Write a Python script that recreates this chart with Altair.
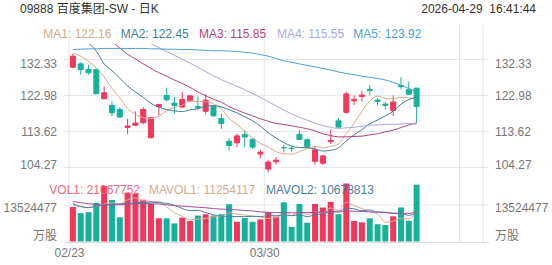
import altair as alt
import pandas as pd

FONT = "Liberation Sans, Noto Sans CJK SC, sans-serif"

# ---------------- data ----------------
title_text = "09888 百度集团-SW - 日K"
time_text = "2026-04-29\u00a0\u00a016:41:44"

dates = ["02/23", "02/24", "02/25", "02/26", "02/27",
         "03/02", "03/03", "03/04", "03/05", "03/06",
         "03/09", "03/10", "03/11", "03/12", "03/13",
         "03/16", "03/17", "03/18", "03/19", "03/20",
         "03/23", "03/24", "03/25", "03/26", "03/27",
         "03/30", "03/31", "04/01", "04/02", "04/08",
         "04/09", "04/10", "04/13", "04/14", "04/15",
         "04/16", "04/17", "04/20", "04/21", "04/22",
         "04/23", "04/24", "04/27", "04/28", "04/29"]

opens = [130.34, 131.21, 129.74, 129.74, 122.14, 120.41, 119.37, 114.71, 115.23, 115.92,
         112.04, 120.07, 122.98, 121.02, 119.98, 121.60, 120.10, 118.90, 120.20, 117.00,
         111.10, 110.70, 112.80, 111.60, 107.80, 103.90, 105.80, 109.50, 109.30, 112.90,
         111.50, 105.90, 105.40, 111.00, 116.40, 118.60, 121.60, 122.70, 124.60, 121.80,
         120.76, 119.10, 125.60, 124.50, 124.90]
closes = [133.19, 129.74, 128.88, 123.43, 123.69, 118.51, 117.39, 115.06, 115.84, 119.37,
          117.22, 120.67, 121.88, 120.41, 121.97, 122.90, 119.80, 121.80, 117.70, 115.70,
          110.00, 112.50, 112.20, 109.60, 108.30, 105.70, 106.20, 109.40, 109.20, 111.60,
          109.70, 108.90, 107.30, 111.30, 114.80, 123.40, 122.00, 123.10, 124.30, 121.40,
          120.41, 121.30, 125.30, 123.30, 120.15]
highs = [133.80, 131.60, 130.95, 130.10, 125.30, 121.45, 119.98, 116.96, 118.90, 119.98,
         117.40, 120.80, 125.00, 122.70, 123.90, 123.00, 122.70, 123.40, 120.40, 118.30,
         111.90, 113.10, 114.00, 111.90, 108.90, 106.30, 107.00, 110.20, 109.90, 114.00,
         111.90, 109.70, 107.60, 114.10, 117.10, 124.00, 123.00, 124.30, 125.70, 122.30,
         121.40, 123.00, 127.75, 126.60, 124.90]
lows = [130.17, 128.40, 128.40, 123.40, 122.10, 117.56, 117.13, 112.90, 115.06, 115.50,
        111.80, 117.80, 121.45, 118.25, 119.90, 121.30, 119.40, 118.10, 117.50, 114.30,
        108.70, 109.60, 109.70, 109.10, 106.70, 103.00, 105.00, 108.20, 108.40, 111.40,
        109.20, 105.00, 105.00, 110.40, 114.50, 118.40, 120.50, 121.40, 123.10, 120.50,
        119.40, 117.65, 124.70, 123.30, 115.90]

# volume in millions of shares
volume_m = [12.77, 10.49, 10.87, 14.28, 20.60, 15.40, 8.97, 18.10, 17.70, 15.50,
            13.90, 8.60, 8.60, 6.70, 8.85, 7.60, 9.60, 10.10, 9.60, 10.10,
            13.80, 7.30, 8.70, 7.30, 8.20, 10.90, 9.20, 14.50, 5.40, 13.90,
            6.95, 13.90, 12.60, 14.70, 10.10, 21.50, 7.60, 7.10, 8.60, 6.40,
            6.10, 9.35, 12.60, 7.70, 21.067752]

ma_names = ["MA1", "MA2", "MA3", "MA4", "MA5"]
ma_last = ["122.16", "122.45", "115.85", "115.55", "123.92"]
ma1 = [134.0, 133.2, 131.9, 130.1, 127.79, 124.85, 122.38, 119.62, 118.1, 117.23,
       116.98, 117.63, 119.0, 119.91, 120.43, 121.57, 121.39, 121.38, 120.83, 119.58,
       117.0, 115.54, 113.62, 112.0, 110.52, 109.66, 108.4, 107.84, 107.76, 108.42,
       109.22, 109.76, 109.34, 109.76, 110.4, 113.14, 115.76, 118.92, 121.52, 122.84,
       122.24, 122.1, 122.54, 122.34, 122.16]
ma2 = [139.5, 138.2, 136.6, 134.5, 131.2, 129.4, 127.5, 125.5, 123.9, 122.51,
       120.92, 120.0, 119.31, 119.0, 118.83, 119.28, 119.51, 120.19, 120.37, 120.0,
       119.29, 118.47, 117.5, 116.42, 115.05, 113.33, 111.97, 110.73, 109.88, 109.47,
       109.44, 109.08, 108.59, 108.76, 109.41, 111.18, 112.76, 114.13, 115.64, 116.62,
       117.69, 118.93, 120.73, 121.93, 122.45]
ma3 = [141.5, 140.5, 139.5, 138.6, 137.7, 136.9, 135.3, 133.7, 132.5, 131.2,
       130.0, 128.9, 128.0, 127.0, 126.1, 125.1, 123.9, 122.9, 122.0, 121.26,
       120.1, 119.24, 118.4, 117.71, 116.94, 116.3, 115.74, 115.46, 115.12, 114.74,
       114.36, 113.78, 113.05, 112.59, 112.23, 112.26, 112.36, 112.43, 112.76, 113.05,
       113.57, 114.0, 114.66, 115.35, 115.85]
ma4 = [146.4, 145.4, 144.4, 143.4, 142.4, 141.4, 140.4, 139.4, 138.4, 137.4,
       136.4, 135.4, 134.4, 133.4, 132.4, 131.4, 130.3, 129.2, 128.1, 127.1,
       126.2, 125.4, 124.5, 123.5, 122.5, 121.4, 120.3, 119.2, 118.2, 117.33,
       116.55, 115.85, 115.14, 114.73, 114.43, 114.6, 114.74, 115.02, 115.3, 115.37,
       115.48, 115.49, 115.61, 115.71, 115.55]
ma5 = [134.9, 135.0, 135.1, 135.1, 135.2, 135.2, 135.2, 135.2, 135.2, 135.2,
       135.1, 135.1, 135.0, 135.0, 134.9, 134.9, 134.8, 134.7, 134.6, 134.6,
       134.5, 134.4, 134.2, 134.0, 133.6, 133.2, 132.6, 132.0, 131.6, 131.2,
       130.8, 130.4, 130.0, 129.6, 129.1, 128.7, 128.4, 128.0, 127.7, 127.4,
       127.0, 126.4, 125.6, 124.8, 123.92]

vol_names = ["VOL1", "MAVOL1", "MAVOL2"]
vol_last = ["21067752", "11254117", "10678813"]
mavol1 = [14.1, 13.1, 12.5, 13.0, 13.8, 14.33, 14.02, 15.47, 16.15, 15.13,
          14.83, 14.76, 12.86, 10.66, 9.33, 8.07, 8.27, 8.57, 9.15, 9.4,
          10.64, 10.18, 9.9, 9.44, 9.06, 8.48, 8.86, 10.02, 9.64, 10.78,
          9.99, 10.93, 10.55, 12.41, 11.65, 14.56, 13.3, 12.2, 10.98, 10.24,
          7.16, 7.51, 8.61, 8.43, 11.254117]
mavol2 = [13.8, 12.9, 12.6, 13.1, 13.5, 13.8, 13.9, 14.1, 14.4, 14.47,
          14.58, 14.39, 14.17, 13.41, 12.23, 11.45, 11.52, 10.72, 9.91, 9.37,
          9.36, 9.23, 9.24, 9.3, 9.23, 9.56, 9.52, 9.96, 9.54, 9.92,
          9.24, 9.9, 10.29, 11.03, 11.22, 12.28, 12.12, 11.38, 11.7, 10.95,
          10.86, 10.41, 10.41, 9.71, 10.678813]
mavol3 = [14.8, 14.4, 14.0, 13.7, 13.5, 13.5, 13.6, 13.8, 14.0, 14.1,
          14.0, 13.9, 13.6, 13.3, 13.1, 12.9, 12.7, 12.5, 12.2, 12.0,
          11.9, 11.7, 11.5, 11.3, 11.0, 10.8, 10.7, 10.7, 10.6, 10.7,
          10.7, 10.8, 10.9, 11.0, 10.9, 11.3, 11.2, 11.1, 11.0, 10.9,
          10.7, 10.5, 10.5, 10.4, 11.0]

price_ticks = [132.33, 122.98, 113.62, 104.27]
vol_tick = 13524477
vol_unit = "万股"
date_ticks = [0, 25]          # candle indices whose dates label the x axis

# ---------------- styling ----------------
RED, GREEN = "#f2375d", "#14b29b"
ma_colors = ["#d5ab8d", "#3f7e93", "#b2447f", "#aaa8e2", "#4f9fd2"]
vol_colors = ["#f06a7e", "#d5ab8d", "#4d7ea0"]
mavol3_color = "#a0509a"
GRID = "#e6e6e6"
LABEL = "#777777"

W, H = 424, 198
SLOTS = 53
PRICE_RANGE = [123.6, 15.5]     # pixel rows of the lowest / highest price tick
VOL_RANGE = [197.5, 161.0]      # pixel rows of volume 0 / volume tick

n = len(dates)
df = pd.DataFrame({"k": list(range(n)), "date": dates, "open": opens, "close": closes,
                   "high": highs, "low": lows, "vol": volume_m})
df["dir"] = ["up" if c >= o else "down" for o, c in zip(opens, closes)]
df["zero"] = 0.0

ma_df = pd.DataFrame([{"k": i, "series": nm, "value": v}
                      for nm, arr in zip(ma_names, [ma1, ma2, ma3, ma4, ma5])
                      for i, v in enumerate(arr)])
mavol_df = pd.DataFrame([{"k": i, "series": nm, "value": v}
                         for nm, arr in zip(["MAVOL1", "MAVOL2", "MAVOL3"], [mavol1, mavol2, mavol3])
                         for i, v in enumerate(arr)])

cdomain = ["up", "down"] + ma_names + vol_names + ["MAVOL3"]
crange = [RED, GREEN] + ma_colors + vol_colors + [mavol3_color]
cscale = alt.Scale(domain=cdomain, range=crange)

label_expr = " : ".join(
    [f"datum.value < {date_ticks[i] - 0.5 + 0.1} ? '{dates[date_ticks[i]]}'" for i in range(len(date_ticks) - 1)]
    + [f"'{dates[date_ticks[-1]]}'"])
xaxis = alt.Axis(values=[t - 0.5 for t in date_ticks], labelExpr=label_expr, grid=False, ticks=False,
                 domain=True, domainColor="#dddddd", labelColor=LABEL, labelFontSize=12, labelFont=FONT,
                 labelFlush=True, labelPadding=5, title=None)
xscale = alt.Scale(domain=[-0.5, SLOTS - 0.5], nice=False, zero=False)


def X(field):
    return alt.X(field, scale=xscale, axis=xaxis, title=None)


pscale = alt.Scale(domain=[price_ticks[-1], price_ticks[0]], range=PRICE_RANGE, nice=False, zero=False)
vscale = alt.Scale(domain=[0, vol_tick / 1e6], range=VOL_RANGE, nice=False, zero=False)

# vertical split lines at slot boundaries
vgrid_df = pd.DataFrame({"gx": [-0.5, 24.5, 49.5, SLOTS - 0.5]})
vgrid = alt.Chart(vgrid_df).mark_rule(color=GRID, strokeWidth=1).encode(
    x=X("gx:Q"), y=alt.value(-19), y2=alt.value(H))

pt_df = pd.DataFrame({"p": price_ticks, "label": [f"{v:.2f}" for v in price_ticks],
                      "pos": ["top"] + ["mid"] * (len(price_ticks) - 2) + ["bot"]})
pgrid = alt.Chart(pt_df).mark_rule(color=GRID, strokeWidth=1).encode(
    y=alt.Y("p:Q", scale=pscale, axis=None), x=alt.value(0), x2=alt.value(W))


def plabels(xpix, align):
    layers = []
    for pos, dy in [("top", 4.5), ("mid", 0), ("bot", -2.3)]:
        layers.append(alt.Chart(pt_df).transform_filter(alt.datum.pos == pos).mark_text(
            align=align, baseline="middle", dy=dy, font=FONT, fontSize=12, color=LABEL).encode(
            y=alt.Y("p:Q", scale=pscale, axis=None), x=alt.value(xpix), text="label:N"))
    return layers


wick = alt.Chart(df).mark_rule(strokeWidth=1).encode(
    x=X("k:Q"), y=alt.Y("low:Q", scale=pscale, axis=None), y2="high:Q",
    color=alt.Color("dir:N", scale=cscale, legend=None))
body = alt.Chart(df).mark_bar(size=5, strokeWidth=1).encode(
    x=X("k:Q"), y=alt.Y("open:Q", scale=pscale, axis=None), y2="close:Q",
    color=alt.Color("dir:N", scale=cscale, legend=None),
    stroke=alt.Stroke("dir:N", scale=cscale, legend=None))
ma_lines = alt.Chart(ma_df).mark_line(strokeWidth=1, clip=True, interpolate="monotone").encode(
    x=X("k:Q"), y=alt.Y("value:Q", scale=pscale, axis=None),
    color=alt.Color("series:N", scale=cscale, legend=None), detail="series:N")

# legend rows / header
ma_leg_df = pd.DataFrame({"series": ma_names,
                          "label": [f"{nm}: {v}" for nm, v in zip(ma_names, ma_last)],
                          "px": [-20.7, 56.7, 135.0, 213.0, 289.3]})
ma_leg = alt.Chart(ma_leg_df).mark_text(align="left", baseline="middle", font=FONT, fontSize=12).encode(
    x=alt.X("px:Q", scale=None), y=alt.value(-10), text="label:N",
    color=alt.Color("series:N", scale=cscale, legend=None))

vol_leg_df = pd.DataFrame({"series": vol_names,
                           "label": [f"{nm}: {v}" for nm, v in zip(vol_names, vol_last)],
                           "px": [-14.7, 85.0, 202.0]})
vol_leg = alt.Chart(vol_leg_df).mark_text(align="left", baseline="middle", font=FONT, fontSize=12).encode(
    x=alt.X("px:Q", scale=None), y=alt.value(146), text="label:N",
    color=alt.Color("series:N", scale=cscale, legend=None))

head_df = pd.DataFrame({"t": [title_text]})
head = alt.Chart(head_df).mark_text(align="left", baseline="middle", font=FONT, fontSize=12,
                                    color="#333333").encode(x=alt.value(-44), y=alt.value(-35), text="t:N")
time_df = pd.DataFrame({"t": [time_text]})
timet = alt.Chart(time_df).mark_text(align="right", baseline="middle", font=FONT, fontSize=12,
                                     color="#333333").encode(x=alt.value(472), y=alt.value(-35), text="t:N")

price_layer = alt.layer(vgrid, pgrid, *plabels(-7, "right"), *plabels(431, "left"),
                        wick, body, ma_lines, ma_leg, head, timet)

# volume panel
vt_df = pd.DataFrame({"v": [vol_tick / 1e6, 0.0], "label": [str(vol_tick), vol_unit], "pos": ["top", "bot"]})
vgrid_h = alt.Chart(vt_df).transform_filter(alt.datum.pos == "top").mark_rule(color=GRID, strokeWidth=1).encode(
    y=alt.Y("v:Q", scale=vscale, axis=None), x=alt.value(0), x2=alt.value(W))


def vlabels(xpix, align):
    layers = []
    for pos, dy in [("top", 3.0), ("bot", -5.5)]:
        layers.append(alt.Chart(vt_df).transform_filter(alt.datum.pos == pos).mark_text(
            align=align, baseline="middle", dy=dy, font=FONT, fontSize=12, color=LABEL).encode(
            y=alt.Y("v:Q", scale=vscale, axis=None), x=alt.value(xpix), text="label:N"))
    return layers


vbars = alt.Chart(df).mark_bar(size=6).encode(
    x=X("k:Q"), y=alt.Y("vol:Q", scale=vscale, axis=None), y2="zero:Q",
    color=alt.Color("dir:N", scale=cscale, legend=None))
vlines = alt.Chart(mavol_df).mark_line(strokeWidth=1, interpolate="monotone").encode(
    x=X("k:Q"), y=alt.Y("value:Q", scale=vscale, axis=None),
    color=alt.Color("series:N", scale=cscale, legend=None), detail="series:N")

vol_layer = alt.layer(vgrid_h, *vlabels(-7, "right"), *vlabels(431, "left"), vbars, vlines, vol_leg)

chart = alt.layer(price_layer, vol_layer).resolve_scale(y="independent").properties(
    width=W, height=H,
    padding={"left": 64, "top": 44, "right": 64, "bottom": 23},
    autosize=alt.AutoSizeParams(type="none"),
    background="white",
).configure_view(strokeWidth=0)

chart.save("out.html", embed_options={"renderer": "svg", "actions": False})
